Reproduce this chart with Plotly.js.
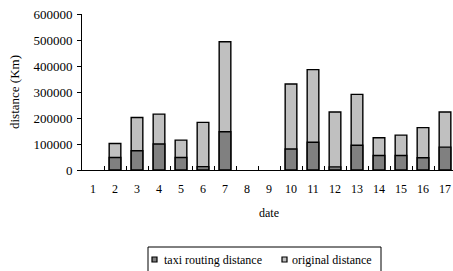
<!DOCTYPE html>
<html><head><meta charset="utf-8">
<script src="https://cdn.plot.ly/plotly-3.0.1.min.js"></script>
<style>html,body{margin:0;padding:0;overflow:hidden;background:#fff;}</style>
</head><body>
<div id="chart"></div>
<script>
const dates = ["1","2","3","4","5","6","7","8","9","10","11","12","13","14","15","16","17"];
// taxi routing distance (dark lower segment)
const taxiRouting = [null,48000,74000,100000,48000,13000,147000,null,null,81000,107000,12000,95000,56000,56000,47000,88000];
// original distance (full bar height)
const originalDistance = [null,102000,202000,215000,115000,183000,493000,null,null,331000,386000,223000,291000,124000,134000,163000,223000];
const legendLabels = ["taxi routing distance","original distance"];

const colTaxi = '#808080', colOrig = '#c0c0c0';
const traceOrig = {
  type:'bar', x:dates, y:originalDistance, name:legendLabels[1], showlegend:false,
  marker:{color:colOrig, line:{color:'#000', width:1.4}}
};
const traceTaxi = {
  type:'bar', x:dates, y:taxiRouting, name:legendLabels[0], showlegend:false,
  marker:{color:colTaxi, line:{color:'#000', width:1.4}}
};

const W = 456, H = 271, L = 82, R = 0, T = 14, B = 101;
const PW = W - L - R, PH = H - T - B;
const px = x => (x - L) / PW;
const py = y => (H - B - y) / PH;

const serif = '"Liberation Serif", "Times New Roman", serif';
const shapes = [
  {type:'rect', xref:'paper', yref:'paper', x0:px(148), x1:px(381), y0:py(247), y1:py(275),
   line:{color:'#000', width:1}, fillcolor:'rgba(0,0,0,0)'},
  {type:'rect', xref:'paper', yref:'paper', x0:px(152), x1:px(157), y0:py(257), y1:py(262),
   line:{color:'#000', width:1.2}, fillcolor:colTaxi},
  {type:'rect', xref:'paper', yref:'paper', x0:px(282), x1:px(287), y0:py(257), y1:py(262),
   line:{color:'#000', width:1.2}, fillcolor:colOrig}
];
const annotations = [
  {xref:'paper', yref:'paper', x:px(162), y:py(259.5), xanchor:'left', yanchor:'middle',
   text:legendLabels[0], showarrow:false, font:{family:serif, size:12, color:'#000'}},
  {xref:'paper', yref:'paper', x:px(290), y:py(259.5), xanchor:'left', yanchor:'middle',
   text:legendLabels[1], showarrow:false, font:{family:serif, size:12, color:'#000'}}
];

const layout = {
  width:W, height:H,
  margin:{l:L, r:R, t:T, b:B},
  barmode:'overlay', bargap:0.47,
  showlegend:false,
  font:{family:serif, size:12, color:'#000'},
  paper_bgcolor:'#fff', plot_bgcolor:'#fff',
  shapes:shapes, annotations:annotations,
  xaxis:{
    type:'category', showline:true, linecolor:'#000', linewidth:1,
    ticks:'inside', tickson:'boundaries', ticklen:4, tickcolor:'#000',
    showgrid:false, zeroline:false, ticklabelstandoff:8, automargin:false,
    tickfont:{family:serif, size:12},
    title:{text:'date', font:{family:serif, size:12}, standoff:13}
  },
  yaxis:{
    range:[0,600000], dtick:100000, showline:true, linecolor:'#000', linewidth:1,
    ticks:'outside', ticklen:4, tickcolor:'#000', showgrid:false, zeroline:false,
    tickformat:'d', ticklabelstandoff:2, automargin:false,
    tickfont:{family:serif, size:13},
    title:{text:'distance (Km)', font:{family:serif, size:13}, standoff:10}
  }
};
Plotly.newPlot('chart',[traceOrig, traceTaxi],layout,{displayModeBar:false, staticPlot:true});
</script>
</body></html>
